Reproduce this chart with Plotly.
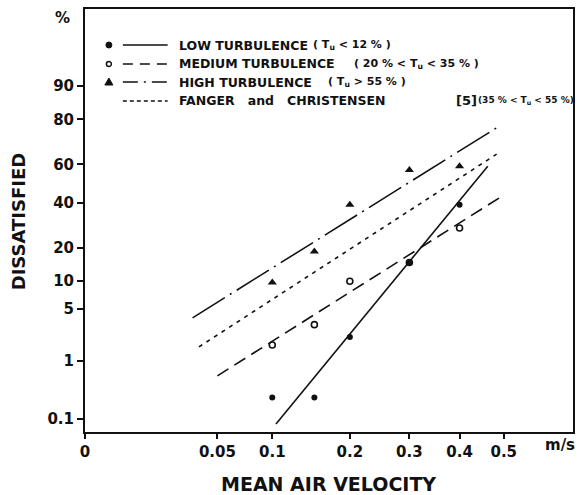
import math
from statistics import NormalDist
import plotly.graph_objects as go

# ---------------- data ----------------
velocity = [0.1, 0.15, 0.2, 0.3, 0.4]           # m/s
low_pct = [0.25, 0.25, 2.2, 15, 39]              # % dissatisfied, low turbulence
medium_pct = [1.7, 3.2, 10, 15, 28]              # medium turbulence
high_pct = [9.7, 18.6, 39, 57, 59]               # high turbulence

fit_low_v = [0.104, 0.4625]
fit_low_p = [0.08, 59]
fit_med_v = [0.05, 0.50]
fit_med_p = [0.58, 44]
fit_high_v = [0.033, 0.485]
fit_high_p = [3.9, 77]
fit_fanger_v = [0.037, 0.483]
fit_fanger_p = [1.6, 65]

x_ticks = [0, 0.05, 0.1, 0.2, 0.3, 0.4, 0.5]
x_ticktext = ["0", "0.05", "0.1", "0.2", "0.3", "0.4", "0.5"]
y_ticks = [0.1, 1, 5, 10, 20, 40, 60, 80, 90]
y_ticktext = ["0.1", "1", "5", "10", "20", "40", "60", "80", "90"]

# ---------------- scales ----------------
ND = NormalDist()


def sx(v):
    return math.sqrt(v)


def sy(p):
    return ND.inv_cdf(p / 100.0)


def X(vals):
    return [sx(v) for v in vals]


def Y(vals):
    return [sy(p) for p in vals]


FONT = "DejaVu Sans"
INK = "#111111"

fig = go.Figure()

line_specs = [
    (fit_low_v, fit_low_p, "solid"),
    (fit_med_v, fit_med_p, "13px,7px"),
    (fit_high_v, fit_high_p, "38px,6px,2px,6px"),
    (fit_fanger_v, fit_fanger_p, "4px,5px"),
]
for vx, vp, dash in line_specs:
    fig.add_trace(go.Scatter(x=X(vx), y=Y(vp), mode="lines",
                             line=dict(color=INK, width=1.6, dash=dash),
                             showlegend=False, hoverinfo="skip"))

fig.add_trace(go.Scatter(x=X(velocity), y=Y(medium_pct), mode="markers",
                         marker=dict(symbol="circle-open", size=6, color=INK,
                                     line=dict(width=1.6, color=INK)),
                         showlegend=False))
fig.add_trace(go.Scatter(x=X(velocity), y=Y(low_pct), mode="markers",
                         marker=dict(symbol="circle", size=6, color=INK),
                         showlegend=False))
fig.add_trace(go.Scatter(x=X(velocity), y=Y(high_pct), mode="markers",
                         marker=dict(symbol="triangle-up", size=8, color=INK),
                         showlegend=False))

# ---------------- layout ----------------
L, R, T, B = 85, 7, 9, 63
W, H = 582, 495
pw, ph = W - L - R, H - T - B


def pxp(xpix):
    return (xpix - L) / pw


def pyp(ypix):
    return (H - B - ypix) / ph


axis_common = dict(showgrid=False, zeroline=False, showline=True, linecolor=INK,
                   linewidth=2, mirror=True, ticks="outside", tickcolor=INK,
                   tickwidth=1.5, tickfont=dict(family=FONT, size=15, color=INK, weight="bold"))

fig.update_layout(
    width=W, height=H,
    margin=dict(l=L, r=R, t=T, b=B),
    paper_bgcolor="white", plot_bgcolor="white",
    xaxis=dict(range=[0, 0.824], tickvals=X(x_ticks), ticktext=x_ticktext,
               ticklen=5, **axis_common),
    yaxis=dict(range=[-3.261, 2.291], tickvals=Y(y_ticks), ticktext=y_ticktext,
               ticklen=6, **axis_common),
)

ann = []


def text(x, y, s, size, xanchor="left", yanchor="middle", angle=0, weight="bold"):
    ann.append(dict(x=x, y=y, xref="paper", yref="paper", text=s, showarrow=False,
                    xanchor=xanchor, yanchor=yanchor, textangle=angle,
                    font=dict(family=FONT, size=size, color=INK, weight=weight)))


text(pxp(329), pyp(484), "MEAN AIR VELOCITY", 19, xanchor="center")
text(pxp(19), pyp(222), "DISSATISFIED", 18, xanchor="center", angle=-90)
text(pxp(62), pyp(18), "%", 15, xanchor="center")
text(pxp(562), pyp(445), "m/s", 15, xanchor="center")

# legend
NB = "\u00a0"
rows = [45, 64, 82, 101]
labels = ["LOW TURBULENCE", "MEDIUM TURBULENCE", "HIGH TURBULENCE",
          "FANGER" + NB * 3 + "and" + NB * 3 + "CHRISTENSEN"]
extras = [
    [(312, "( T<sub>u</sub> &lt; 12 % )", 11)],
    [(353, "( 20 % &lt; T<sub>u</sub> &lt; 35 % )", 11)],
    [(327, "( T<sub>u</sub> &gt; 55 % )", 11)],
    [(456, "[5]", 13), (478, "(35 % &lt; T<sub>u</sub> &lt; 55 %)", 9)],
]
leg_dash = ["solid", "10px,7px", "15px,6px,2px,6px", "4px,3px"]
shapes = []
for i, yr in enumerate(rows):
    text(pxp(177), pyp(yr), labels[i], 12.5)
    for xp, s, fs in extras[i]:
        text(pxp(xp), pyp(yr), s, fs)
    shapes.append(dict(type="line", xref="paper", yref="paper",
                       x0=pxp(123), x1=pxp(168), y0=pyp(yr), y1=pyp(yr),
                       line=dict(color=INK, width=1.6, dash=leg_dash[i])))

mx = pxp(109)
# legend markers (pixel-sized, anchored in paper coords)
shapes.append(dict(type="circle", xref="paper", yref="paper", xsizemode="pixel", ysizemode="pixel",
                   xanchor=mx, yanchor=pyp(rows[0]), x0=-3, x1=3, y0=-3, y1=3,
                   fillcolor=INK, line=dict(color=INK, width=1)))
shapes.append(dict(type="circle", xref="paper", yref="paper", xsizemode="pixel", ysizemode="pixel",
                   xanchor=mx, yanchor=pyp(rows[1]), x0=-2.5, x1=2.5, y0=-2.5, y1=2.5,
                   fillcolor="white", line=dict(color=INK, width=1.5)))
shapes.append(dict(type="path", xref="paper", yref="paper", xsizemode="pixel", ysizemode="pixel",
                   xanchor=mx, yanchor=pyp(rows[2]), path="M -4 -3 L 4 -3 L 0 4 Z",
                   fillcolor=INK, line=dict(color=INK, width=1)))

fig.update_layout(annotations=ann, shapes=shapes)
fig.write_html("out.html")
